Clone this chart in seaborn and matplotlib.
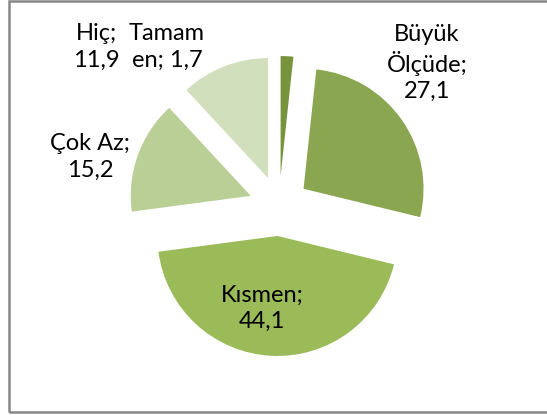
import numpy as np
import seaborn as sns
import matplotlib.pyplot as plt
from matplotlib.patches import Rectangle

categories = ["Tamamen", "Büyük Ölçüde", "Kısmen", "Çok Az", "Hiç"]
values = [1.7, 27.1, 44.1, 15.2, 11.9]
label_texts = ["Tamam\nen; 1,7", "Büyük\nÖlçüde;\n27,1", "Kısmen;\n44,1", "Çok Az;\n15,2", "Hiç;\n11,9"]
colors = ["#77933c", "#8aa651", "#9bbb59", "#bacf96", "#d2dfbd"]

# label centres in pixels (x, y from top), as Excel placed them
label_pos = [(167, 47), (427, 63), (262, 308), (90, 157), (96, 47)]

W, H = 547, 415
cx, cy, r = 279, 206, 120

sns.set_theme(style="white")
plt.rcParams['font.family'] = ['Lato', 'DejaVu Sans']

fig = plt.figure(figsize=(W / 100, H / 100), dpi=100)
ax = fig.add_axes([0, 0, 1, 1])

ax.pie(values, colors=colors, startangle=90, counterclock=False,
       explode=[0.25] * len(values), radius=1,
       wedgeprops=dict(linewidth=0), center=(0, 0))

ax.set_xlim(-cx / r, (W - cx) / r)
ax.set_ylim((cy - H) / r, cy / r)
ax.set_aspect("equal")
ax.axis("off")

for txt, (px, py) in zip(label_texts, label_pos):
    fig.text(px / W, 1 - py / H, txt, ha="center", va="center",
             fontsize=17, color="black", linespacing=1.3)

# chart border
fig.patches.append(Rectangle((8.5 / W, (H - 412) / H), 1.0, (412 - 1.5) / H,
                             transform=fig.transFigure, fill=False,
                             edgecolor="#878787", linewidth=1.8))

fig.savefig("out.png", dpi=100)
